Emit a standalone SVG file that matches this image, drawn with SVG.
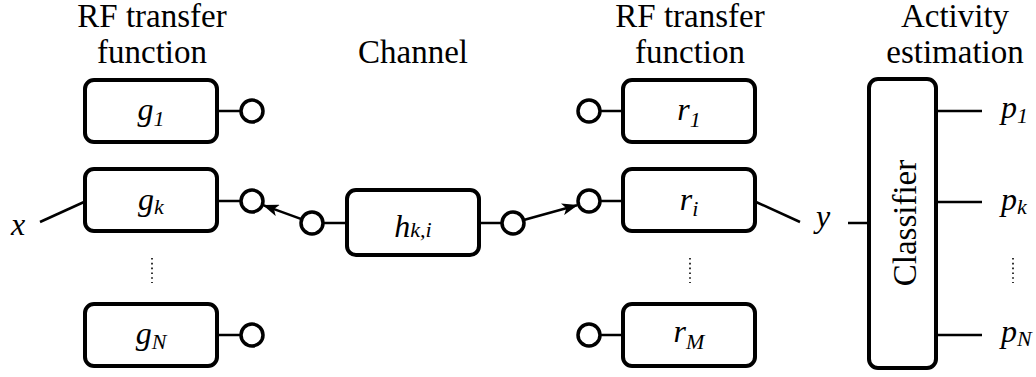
<svg xmlns="http://www.w3.org/2000/svg" width="1036" height="377" viewBox="0 0 1036 377">
<defs>
<style>
.box{fill:#fff;stroke:#000;stroke-width:4}
.port{fill:#fff;stroke:#000;stroke-width:3.5}
.ln{stroke:#000;stroke-width:2.5;fill:none}
.dots{stroke:#000;stroke-width:1.6;stroke-dasharray:1.6 3.2;fill:none}
.hd{font-family:"Liberation Serif",serif;font-size:33px;text-anchor:middle;fill:#000}
.m{font-family:"Liberation Serif",serif;font-style:italic;font-size:32px;fill:#000}
.s{font-size:22px}
</style>
<marker id="arr" viewBox="0 0 16 12" refX="15" refY="6" markerWidth="16" markerHeight="12" markerUnits="userSpaceOnUse" orient="auto">
<path d="M0,0 L16,6 L0,12 L4,6 Z" fill="#000"/>
</marker>
</defs>

<g id="headers">
<text class="hd" x="152" y="27">RF transfer</text>
<text class="hd" x="152" y="63">function</text>
<text class="hd" x="413" y="63">Channel</text>
<text class="hd" x="690" y="27">RF transfer</text>
<text class="hd" x="690" y="63">function</text>
<text class="hd" x="955" y="27">Activity</text>
<text class="hd" x="955" y="63">estimation</text>
</g>

<g id="connectors">
<line class="ln" x1="219" y1="111" x2="241" y2="111"/>
<line class="ln" x1="219" y1="201" x2="241" y2="201"/>
<line class="ln" x1="219" y1="335" x2="241" y2="335"/>
<line class="ln" x1="600" y1="111" x2="623" y2="111"/>
<line class="ln" x1="600" y1="201" x2="623" y2="201"/>
<line class="ln" x1="600" y1="335" x2="623" y2="335"/>
<line class="ln" x1="323" y1="223" x2="347" y2="223"/>
<line class="ln" x1="479" y1="223" x2="502" y2="223"/>
<line class="ln" x1="300.8" y1="218.9" x2="263.7" y2="205.3" marker-end="url(#arr)"/>
<line class="ln" x1="524.6" y1="219.8" x2="577" y2="205.3" marker-end="url(#arr)"/>
<line class="ln" x1="40" y1="222" x2="84" y2="202"/>
<line class="ln" x1="756" y1="202" x2="800" y2="222"/>
<line class="ln" x1="848" y1="223" x2="868" y2="223"/>
<line class="ln" x1="937" y1="111" x2="982" y2="111"/>
<line class="ln" x1="937" y1="202" x2="982" y2="202"/>
<line class="ln" x1="937" y1="335" x2="982" y2="335"/>
<line class="dots" x1="152" y1="258" x2="152" y2="283"/>
<line class="dots" x1="690" y1="258" x2="690" y2="283"/>
<line class="dots" x1="1013" y1="258" x2="1013" y2="283"/>
</g>

<g id="g1">
<rect class="box" x="85" y="80" width="132" height="62" rx="9"/>
<text class="m" x="151" y="120" text-anchor="middle">g<tspan class="s" dy="6">1</tspan></text>
<circle class="port" cx="252" cy="111" r="11"/>
</g>
<g id="gk">
<rect class="box" x="85" y="169" width="132" height="62" rx="9"/>
<text class="m" x="151" y="210" text-anchor="middle">g<tspan class="s" dy="4">k</tspan></text>
<circle class="port" cx="252" cy="201" r="11"/>
</g>
<g id="gN">
<rect class="box" x="85" y="304" width="132" height="62" rx="9"/>
<text class="m" x="151" y="344" text-anchor="middle">g<tspan class="s" dy="5">N</tspan></text>
<circle class="port" cx="252" cy="335" r="11"/>
</g>

<g id="h">
<rect class="box" x="347" y="190" width="132" height="65" rx="9"/>
<text class="m" x="413" y="237" text-anchor="middle">h<tspan class="s">k,i</tspan></text>
<circle class="port" cx="312" cy="223" r="11"/>
<circle class="port" cx="513" cy="223" r="11"/>
</g>

<g id="r1">
<rect class="box" x="623" y="80" width="132" height="62" rx="9"/>
<text class="m" x="689" y="120" text-anchor="middle">r<tspan class="s" dy="7">1</tspan></text>
<circle class="port" cx="589" cy="111" r="11"/>
</g>
<g id="ri">
<rect class="box" x="623" y="169" width="132" height="62" rx="9"/>
<text class="m" x="689" y="210" text-anchor="middle">r<tspan class="s" dy="6">i</tspan></text>
<circle class="port" cx="589" cy="201" r="11"/>
</g>
<g id="rM">
<rect class="box" x="623" y="304" width="132" height="62" rx="9"/>
<text class="m" x="689" y="342" text-anchor="middle">r<tspan class="s" dy="7">M</tspan></text>
<circle class="port" cx="589" cy="335" r="11"/>
</g>

<g id="classifier">
<rect class="box" x="869" y="79" width="67" height="289" rx="9"/>
<text class="hd" transform="translate(916,223) rotate(-90)" x="0" y="0">Classifier</text>
</g>

<g id="labels">
<text class="m" x="18" y="235" text-anchor="middle">x</text>
<text class="m" x="823" y="227" text-anchor="middle">y</text>
<text class="m" x="1001" y="118">p<tspan class="s" dy="5">1</tspan></text>
<text class="m" x="1001" y="210">p<tspan class="s" dy="4">k</tspan></text>
<text class="m" x="1001" y="342">p<tspan class="s" dy="4">N</tspan></text>
</g>
</svg>
